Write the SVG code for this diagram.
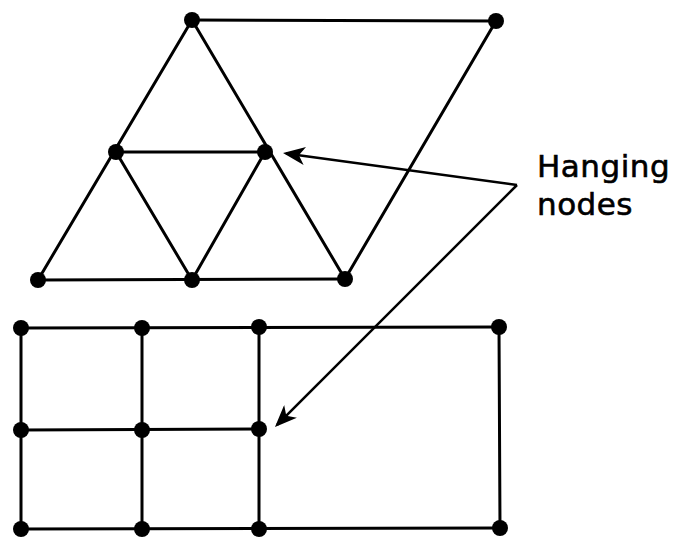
<svg xmlns="http://www.w3.org/2000/svg" width="675" height="539" viewBox="0 0 675 539">
<style>
.e{stroke:#000;stroke-width:3;fill:none;stroke-linecap:round}
.n{fill:#000}
.a{stroke:#000;stroke-width:2.5;fill:none}
.t{font-family:"DejaVu Sans",Verdana,sans-serif;font-size:31px;letter-spacing:0.5px;fill:#000;stroke:#000;stroke-width:0.6}
</style>
<defs>
<marker id="ah" markerUnits="userSpaceOnUse" viewBox="0 0 22 18" refX="19" refY="9" markerWidth="22" markerHeight="18" orient="auto">
<path d="M0,0 L22,9 L0,18 L6,9 Z" fill="#000"/>
</marker>
</defs>
<rect width="675" height="539" fill="#fff"/>
<g id="edges">
<line class="e" x1="192" y1="20" x2="496" y2="21"/>
<line class="e" x1="192" y1="20" x2="38" y2="280"/>
<line class="e" x1="192" y1="20" x2="345" y2="279"/>
<line class="e" x1="116" y1="152" x2="265" y2="152"/>
<line class="e" x1="116" y1="152" x2="192" y2="280"/>
<line class="e" x1="265" y1="152" x2="192" y2="280"/>
<line class="e" x1="38" y1="280" x2="345" y2="279"/>
<line class="e" x1="496" y1="21" x2="345" y2="279"/>
<line class="e" x1="21" y1="328" x2="499" y2="327"/>
<line class="e" x1="21" y1="430" x2="259" y2="429"/>
<line class="e" x1="21" y1="529" x2="500" y2="528"/>
<line class="e" x1="21" y1="328" x2="21" y2="529"/>
<line class="e" x1="142" y1="328" x2="142" y2="529"/>
<line class="e" x1="259" y1="327" x2="259" y2="529"/>
<line class="e" x1="499" y1="327" x2="500" y2="528"/>
</g>
<g id="connectors">
<line class="a" x1="517" y1="185" x2="286" y2="153.4" marker-end="url(#ah)"/>
<line class="a" x1="517" y1="185" x2="277.1" y2="424.9" marker-end="url(#ah)"/>
</g>
<g id="nodes">
<circle class="n" cx="192" cy="20" r="8"/>
<circle class="n" cx="496" cy="21" r="8"/>
<circle class="n" cx="116" cy="152" r="8"/>
<circle class="n" cx="265" cy="152" r="8"/>
<circle class="n" cx="38" cy="280" r="8"/>
<circle class="n" cx="192" cy="280" r="8"/>
<circle class="n" cx="345" cy="279" r="8"/>
<circle class="n" cx="21" cy="328" r="8"/>
<circle class="n" cx="142" cy="328" r="8"/>
<circle class="n" cx="259" cy="327" r="8"/>
<circle class="n" cx="499" cy="327" r="8"/>
<circle class="n" cx="21" cy="430" r="8"/>
<circle class="n" cx="142" cy="430" r="8"/>
<circle class="n" cx="259" cy="429" r="8"/>
<circle class="n" cx="21" cy="529" r="8"/>
<circle class="n" cx="142" cy="529" r="8"/>
<circle class="n" cx="259" cy="529" r="8"/>
<circle class="n" cx="500" cy="528" r="8"/>
</g>
<g id="label">
<text class="t" x="537" y="177">Hanging</text>
<text class="t" x="537" y="215">nodes</text>
</g>
</svg>
